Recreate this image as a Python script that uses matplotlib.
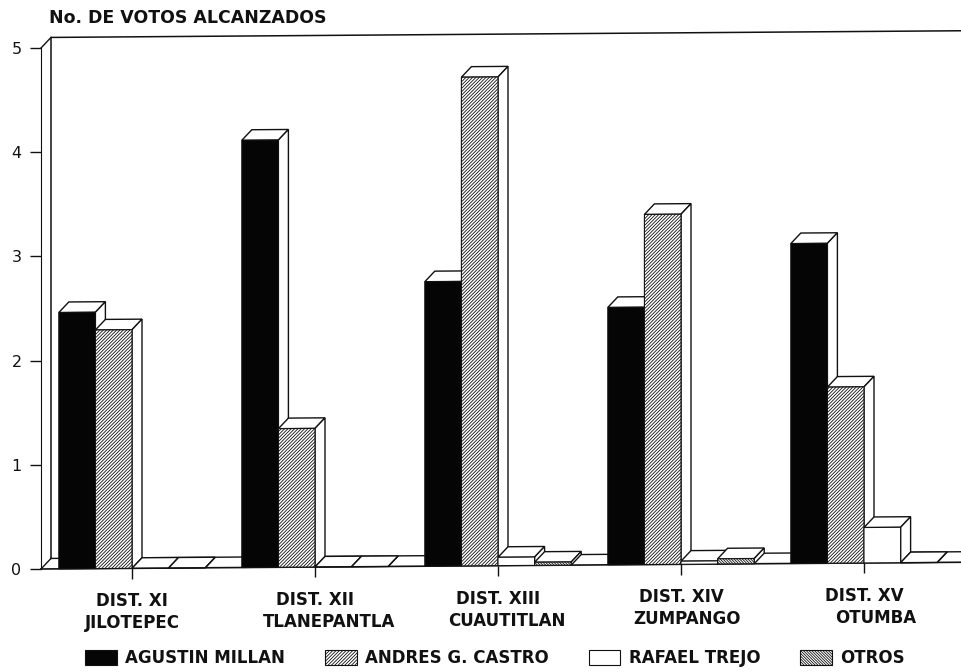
import matplotlib
matplotlib.use("Agg")
import matplotlib.pyplot as plt
from matplotlib.patches import Patch, Polygon
from matplotlib.transforms import Affine2D

plt.rcParams['font.family'] = ['DejaVu Sans']
plt.rcParams['hatch.linewidth'] = 0.6

distritos = ["DIST. XI", "DIST. XII", "DIST. XIII", "DIST. XIV", "DIST. XV"]
lugares = ["JILOTEPEC", "TLANEPANTLA", "CUAUTITLAN", "ZUMPANGO", "OTUMBA"]
candidatos = ["AGUSTIN MILLAN", "ANDRES G. CASTRO", "RAFAEL TREJO", "OTROS"]

millan = [2.46, 4.10, 2.73, 2.47, 3.07]
castro = [2.29, 1.33, 4.69, 3.36, 1.69]
trejo = [0.0, 0.0, 0.08, 0.03, 0.34]
otros = [0.0, 0.0, 0.03, 0.05, 0.0]

W, H = 961, 672
tinta = "#111111"
estilos = [
    dict(facecolor="#050505", hatch=None),
    dict(facecolor="white", hatch="//////////"),
    dict(facecolor="white", hatch=None),
    dict(facecolor="white", hatch="\\\\\\\\\\\\\\\\\\\\\\\\"),
]
bar_w = 0.2
dx, dy = 10 / 183, 10.5 / 104.2
lugar_off = [0, 14, 9, 6, 12]  # the second line is not centred in the original

fig = plt.figure(figsize=(W / 100, H / 100), dpi=100)
ax = fig.add_axes([41 / W, (H - 569) / H, 920 / W, 521 / H])
ax.set_xlim(-91 / 183, 829 / 183)
ax.set_ylim(0, 5)

# the page was scanned slightly crooked: verticals stay upright, horizontals climb
sesgo = Affine2D().translate(-41, -(H - 569)).skew_deg(0, 0.42).translate(41, H - 569)
tr = ax.transData + sesgo

for s in ["top", "right", "bottom"]:
    ax.spines[s].set_visible(False)
ax.spines["left"].set_color(tinta)
ax.set_xticks([])
ax.set_yticks([0, 1, 2, 3, 4, 5])
ax.tick_params(axis="y", length=8, width=1, color=tinta, pad=6, labelsize=11.5, labelcolor=tinta)

x0, x1 = ax.get_xlim()
# walls and floor
ax.plot([x0 + dx, x0 + dx, x1 + 0.2], [dy, 5 + dy, 5 + dy], color=tinta, lw=1.1, transform=tr, clip_on=False)
ax.plot([x0 + dx, x1 + 0.2], [dy, dy], color=tinta, lw=1, transform=tr, clip_on=False)
ax.plot([x0, x0 + dx], [5, 5 + dy], color=tinta, lw=1, transform=tr, clip_on=False)
ax.plot([x0, x0 + dx], [0, dy], color=tinta, lw=1, transform=tr, clip_on=False)
ax.plot([x0, x1 + 0.2], [0, 0], color=tinta, lw=1.2, transform=tr, clip_on=False)

series = [millan, castro, trejo, otros]
for g in range(len(distritos)):
    for k, vals in enumerate(series):
        v = vals[g]
        left = g + (k - 2) * bar_w
        right = left + bar_w
        ax.add_patch(Polygon([(left, v), (left + dx, v + dy), (right + dx, v + dy), (right, v)],
                             closed=True, fc="white", ec=tinta, lw=1, transform=tr, clip_on=False, zorder=3))
        ax.add_patch(Polygon([(right, 0), (right + dx, dy), (right + dx, v + dy), (right, v)],
                             closed=True, fc="white", ec=tinta, lw=1, transform=tr, clip_on=False, zorder=3))
        ax.bar(left, v, bar_w, align="edge", edgecolor=tinta, linewidth=0.8, transform=tr,
               clip_on=False, zorder=4, **estilos[k])

ax.vlines(range(len(distritos)), -0.1, 0, color=tinta, lw=1, transform=tr, clip_on=False)
ax.set_xlim(x0, x1)
ax.set_ylim(0, 5)

for g in range(len(distritos)):
    ax.annotate(distritos[g], (g, 0), xycoords=tr, xytext=(0, -38), textcoords="offset pixels",
                ha="center", va="baseline", fontsize=12, fontweight="bold", color=tinta)
    ax.annotate(lugares[g], (g, 0), xycoords=tr, xytext=(lugar_off[g], -60), textcoords="offset pixels",
                ha="center", va="baseline", fontsize=12, fontweight="bold", color=tinta)

fig.text(49 / W, 1 - 23 / H, "No. DE VOTOS ALCANZADOS", fontsize=12.5, fontweight="bold", color=tinta,
         va="baseline", ha="left")

handles = [Patch(edgecolor=tinta, linewidth=0.8, **e) for e in estilos]
fig.legend(handles, candidatos, ncol=4, frameon=False, loc="lower left", bbox_to_anchor=(70 / W, -10 / H),
           prop=dict(size=12, weight="bold"), labelcolor=tinta, handlelength=1.9, handleheight=1.0,
           handletextpad=0.5, columnspacing=2.4)

fig.savefig("out.png", dpi=100)
